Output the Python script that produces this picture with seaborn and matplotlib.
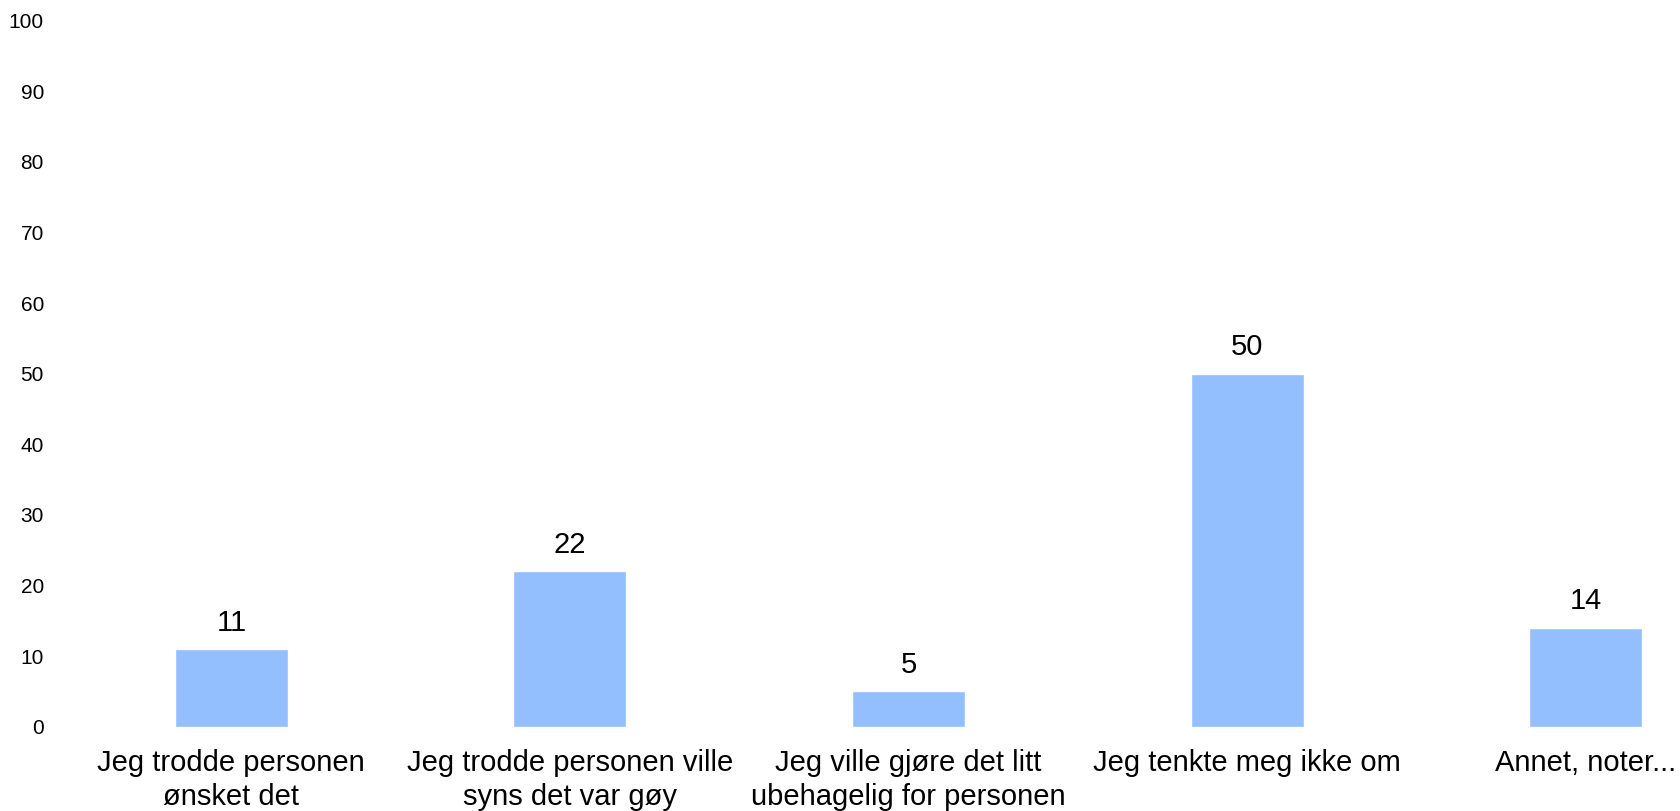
import matplotlib
matplotlib.use("Agg")
import matplotlib.pyplot as plt
import seaborn as sns
import pandas as pd

categories = [
    "Jeg trodde personen\nønsket det",
    "Jeg trodde personen ville\nsyns det var gøy",
    "Jeg ville gjøre det litt\nubehagelig for personen",
    "Jeg tenkte meg ikke om",
    "Annet, noter...",
]
values = [11, 22, 5, 50, 14]
y_ticks = [0, 10, 20, 30, 40, 50, 60, 70, 80, 90, 100]

sns.set_theme(style="white")
plt.rcParams["font.family"] = ["Liberation Sans", "DejaVu Sans"]

df = pd.DataFrame({"kategori": categories, "antall": values})

fig = plt.figure(figsize=(16.81, 8.11), dpi=100)
ax = fig.add_axes([62 / 1681, 84.3 / 811, 1 - 62 / 1681, (726.7 - 20.7) / 811])

sns.barplot(data=df, x="kategori", y="antall", color="#93BFFF", saturation=1,
            width=0.334, ax=ax, errorbar=None)

ax.bar_label(ax.containers[0], labels=[str(v) for v in values],
             padding=9, fontsize=21, color="#000000")

ax.set_ylim(0, 100)
ax.set_xlim(-0.5, 4.281)
ax.set_yticks(y_ticks)
ax.set_yticklabels([str(t) for t in y_ticks])
ax.tick_params(axis="y", length=0, pad=13, labelsize=15, labelcolor="#000000")
ax.tick_params(axis="x", length=0, pad=16, labelsize=21, labelcolor="#000000")
for lbl in ax.get_xticklabels():
    lbl.set_linespacing(1.27)
ax.set_xlabel("")
ax.set_ylabel("")
for s in ax.spines.values():
    s.set_visible(False)
ax.grid(False)

fig.savefig("out.png", dpi=100, facecolor="white")
